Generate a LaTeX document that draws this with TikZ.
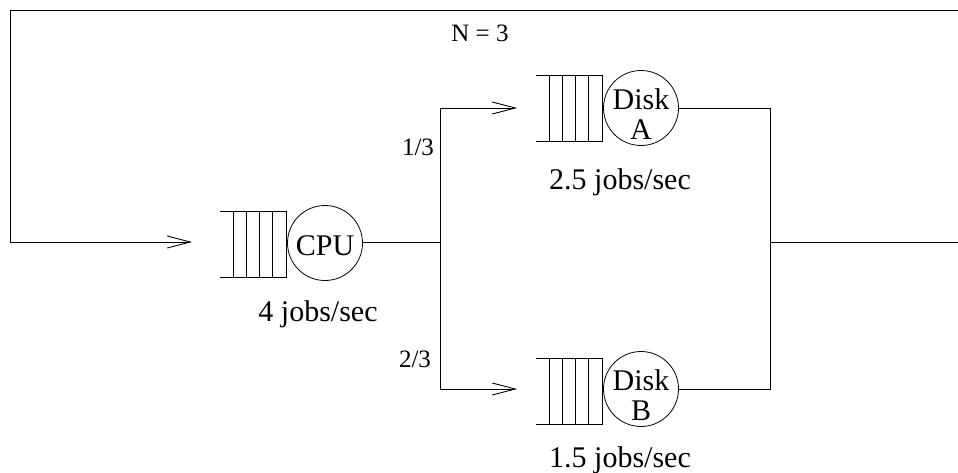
\documentclass[tikz,border=0pt]{standalone}
\usepackage{fontspec}
\setmainfont{Liberation Serif}
\usetikzlibrary{arrows.meta,calc}
\begin{document}
\begin{tikzpicture}[x=1pt,y=-1pt,
  wire/.style={line width=0.9pt},
  arr/.style={wire,-{Straight Barb[length=23pt,width=12pt,line width=0.9pt]}},
  queue/.style={minimum width=66pt,minimum height=66pt,inner sep=0pt,outer sep=0pt},
  server/.style={circle,draw,line width=0.8pt,minimum size=75pt,inner sep=0pt},
  big/.style={font=\fontsize{30}{30}\selectfont,inner sep=0pt,align=center},
  small/.style={font=\fontsize{25}{25}\selectfont,inner sep=0pt}]
\useasboundingbox (0,0) rectangle (958,472);
% queues
\node[queue] (qc) at (253,244) {};
\node[queue] (qa) at (569,108) {};
\node[queue] (qb) at (569,391) {};
\foreach \q in {qc,qa,qb}{
  \draw[wire] (\q.north west) -- (\q.north east) -- (\q.south east) -- (\q.south west);
  \foreach \f in {0.2,0.4,0.6,0.8}
    \draw[line width=0.7pt] ($(\q.north west)!\f!(\q.north east)$) -- ($(\q.south west)!\f!(\q.south east)$);
}
% servers
\node[server] (cpu) at (325,243) {};
\node[server] (da) at (641,108) {};
\node[server] (db) at (641,389) {};
\node[big] (tcpu) at (325,246) {CPU};
\node[big] (tda) at (641,114) {Disk\\A};
\node[big] (tdb) at (641,395) {Disk\\B};
% coordinates
\coordinate (split) at (440,242);
\coordinate (ina) at (517,108);
\coordinate (inb) at (517,389);
\coordinate (join) at (770,242);
\coordinate (joinA) at (770,108);
\coordinate (joinB) at (770,389);
\coordinate (outR) at (958,242);
\coordinate (topR) at (958,10);
\coordinate (topL) at (10,10);
\coordinate (botL) at (10,242);
\coordinate (inc) at (192,242);
% connectors
\draw[wire] (cpu.east |- split) -- (split);
\draw[arr] (split) |- (ina);
\draw[arr] (split) |- (inb);
\draw[wire] (da.east) -- (joinA) -- (joinB) -- (db.east);
\draw[wire] (join) -- (outR);
\draw[arr] (topR) -- (topL) -- (botL) -- (inc);
% labels
\node[small] (n) at (480,33) {N = 3};
\node[small] (p1) at (418,147) {1/3};
\node[small] (p2) at (415,359) {2/3};
\node[big] (rc) at (318,314) {4 jobs/sec};
\node[big] (ra) at (620,182) {2.5 jobs/sec};
\node[big] (rb) at (620,460) {1.5 jobs/sec};
\end{tikzpicture}
\end{document}
